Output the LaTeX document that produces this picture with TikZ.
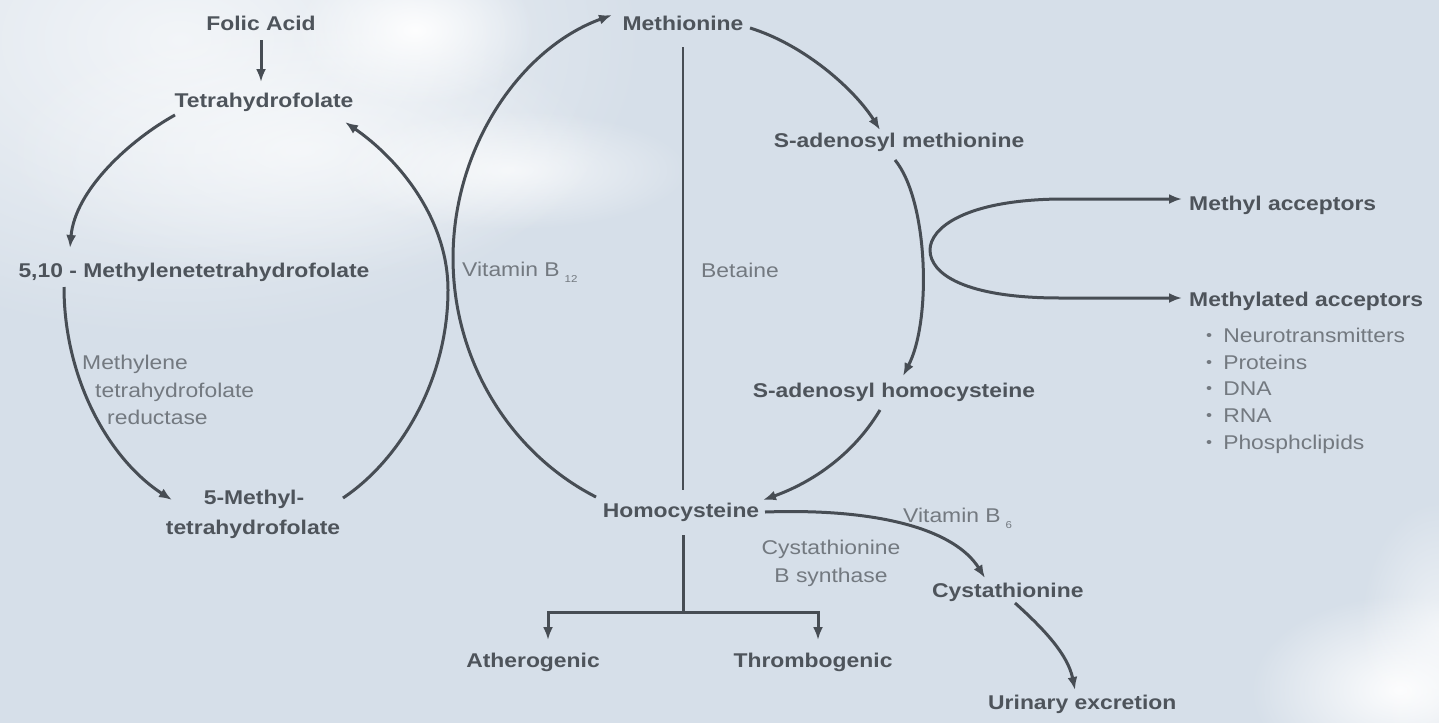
\documentclass[tikz,border=0pt]{standalone}
\usepackage{fontspec}
\newfontfamily\lab[FakeStretch=1.15]{Liberation Sans}
\usetikzlibrary{arrows.meta,fadings}
\tikzfading[name=fuzz, inner color=transparent!0, outer color=transparent!100]
\definecolor{bg}{HTML}{D6DFE9}
\definecolor{ink}{HTML}{474D54}
\definecolor{tbold}{HTML}{4E545B}
\definecolor{treg}{HTML}{737980}
\newcommand{\mybul}{\raisebox{2pt}{\fontsize{15}{15}\selectfont •}\hspace{11pt}}
\newcommand{\mysub}[1]{\hspace{5pt}\raisebox{-6pt}{\fontsize{10}{10}\selectfont #1}}
\begin{document}
\begin{tikzpicture}[x=1pt,y=-1pt,
  bnode/.style={font={\lab\bfseries\fontsize{19.9}{22}\selectfont}, text=tbold, inner sep=0pt},
  rnode/.style={font={\lab\fontsize{19.9}{22}\selectfont}, text=treg, inner sep=0pt},
  conn/.style={draw=ink, line width=3pt, -{Latex[length=13pt,width=10pt]}},
  biconn/.style={draw=ink, line width=3pt, {Latex[length=13pt,width=10pt]}-{Latex[length=13pt,width=10pt]}},
  plainline/.style={draw=ink, line width=3pt},
  thinline/.style={draw=ink, line width=2.2pt},
  cloud/.style={fill=white, path fading=fuzz}]
\useasboundingbox (0,0) rectangle (1439,723);
% background
\fill[bg] (0,0) rectangle (1439,723);
\fill[cloud, opacity=0.7] (180,40) ellipse [x radius=470, y radius=300];
\fill[cloud, opacity=0.6] (300,150) ellipse [x radius=300, y radius=130];
\fill[cloud, opacity=0.95] (415,30) ellipse [x radius=120, y radius=75];
\fill[cloud, opacity=0.7] (510,170) ellipse [x radius=180, y radius=60];
\fill[cloud, opacity=0.95] (1400,690) ellipse [x radius=150, y radius=95];
\fill[cloud, opacity=0.6] (1439,630) ellipse [x radius=80, y radius=130];

% folate cycle
\node[bnode, anchor=base] (folic) at (261,30) {Folic Acid};
\node[bnode, anchor=base] (thf) at (264,107) {Tetrahydrofolate};
\node[bnode, anchor=base] (mthf) at (194,277) {5,10 - Methylenetetrahydrofolate};
\node[rnode, anchor=base west] (enza) at (82,369) {Methylene};
\node[rnode, anchor=base west] (enzb) at (95,397) {tetrahydrofolate};
\node[rnode, anchor=base west] (enzc) at (107,424) {reductase};
\node[bnode, anchor=base] (mfive) at (254,504) {5-Methyl-};
\node[bnode, anchor=base] (mfiveb) at (253,534) {tetrahydrofolate};

% methionine cycle
\node[bnode, anchor=base] (met) at (683,30) {Methionine};
\node[rnode, anchor=base west] (bt) at (462,276) {Vitamin B\mysub{12}};
\node[rnode, anchor=base west] (bet) at (701,277) {Betaine};
\node[bnode, anchor=base] (sam) at (899,147) {S-adenosyl methionine};
\node[bnode, anchor=base] (sah) at (894,397) {S-adenosyl homocysteine};
\node[bnode, anchor=base] (hcy) at (681,517) {Homocysteine};

% acceptors
\node[bnode, anchor=base west] (macc) at (1189,210) {Methyl acceptors};
\node[bnode, anchor=base west] (mdacc) at (1189,306) {Methylated acceptors};
\node[rnode, anchor=base west] (la) at (1206,342) {\mybul Neurotransmitters};
\node[rnode, anchor=base west] (lb) at (1206,369) {\mybul Proteins};
\node[rnode, anchor=base west] (lc) at (1206,395) {\mybul DNA};
\node[rnode, anchor=base west] (ld) at (1206,422) {\mybul RNA};
\node[rnode, anchor=base west] (le) at (1206,449) {\mybul Phosphclipids};

% transsulfuration
\node[rnode, anchor=base west] (bsix) at (903,522) {Vitamin B\mysub{6}};
\node[rnode, anchor=base] (cbsa) at (831,554) {Cystathionine};
\node[rnode, anchor=base] (cbsb) at (831,582) {B synthase};
\node[bnode, anchor=base west] (cys) at (932,597) {Cystathionine};
\node[bnode, anchor=base west] (ur) at (988,709) {Urinary excretion};
\node[bnode, anchor=base] (ath) at (533,667) {Atherogenic};
\node[bnode, anchor=base] (thr) at (813,667) {Thrombogenic};
\coordinate (junc) at (683,612);

% connectors: folate cycle
\draw[conn] ([shift={(0,10)}]folic.base) -- ([shift={(-3,-25)}]thf.base);
\draw[conn] ([shift={(-89,8)}]thf.base) .. controls (130,140) and (75,190) .. ([shift={(-124,-29)}]mthf.base);
\draw[conn] ([shift={(-130,10)}]mthf.base) .. controls (64,380) and (110,460) .. ([shift={(-82,-4)}]mfive.base);
\draw[conn] ([shift={(89,-6)}]mfive.base) .. controls (400,460) and (448,380) .. (448,290) .. controls (448,220) and (400,160) .. ([shift={(81,15)}]thf.base);

% connectors: methionine cycle
\draw[conn] ([shift={(-85,-20)}]hcy.base) .. controls (506,451) and (448.5,352.5) .. (453.3,245.8) .. controls (458.1,139.1) and (524,46.9) .. ([shift={(-71,-15)}]met.base);
\draw[conn] ([shift={(67,-2)}]met.base) .. controls (805,45) and (855,90) .. ([shift={(-19,-17)}]sam.base);
\draw[conn] ([shift={(-4,13)}]sam.base) .. controls (928,200) and (932,320) .. ([shift={(9,-21)}]sah.base);
\draw[conn] ([shift={(-14,13)}]sah.base) .. controls (850,460) and (805,485) .. ([shift={(82,-17)}]hcy.base);
\draw[thinline] ([shift={(0,17)}]met.base) -- ([shift={(2,-27)}]hcy.base);

% methyl acceptor loop
\draw[biconn] ([shift={(-7,-11)}]macc.base west) -- (1060,199) .. controls (965,200) and (930,228) .. (930,250) .. controls (930,274) and (965,298) .. (1060,298) -- ([shift={(-7,-8)}]mdacc.base west);

% transsulfuration
\draw[conn] ([shift={(84,-5)}]hcy.base) .. controls (880,508) and (955,530) .. ([shift={(53,-19)}]cys.base west);
\draw[conn] ([shift={(83,6)}]cys.base west) .. controls (1045,630) and (1068,655) .. ([shift={(87,-19)}]ur.base west);

% branch
\draw[plainline] ([shift={(2,18)}]hcy.base) -- (junc);
\draw[conn] (junc) -| ([shift={(15,-27)}]ath.base);
\draw[conn] (junc) -| ([shift={(5,-27)}]thr.base);
\end{tikzpicture}
\end{document}
